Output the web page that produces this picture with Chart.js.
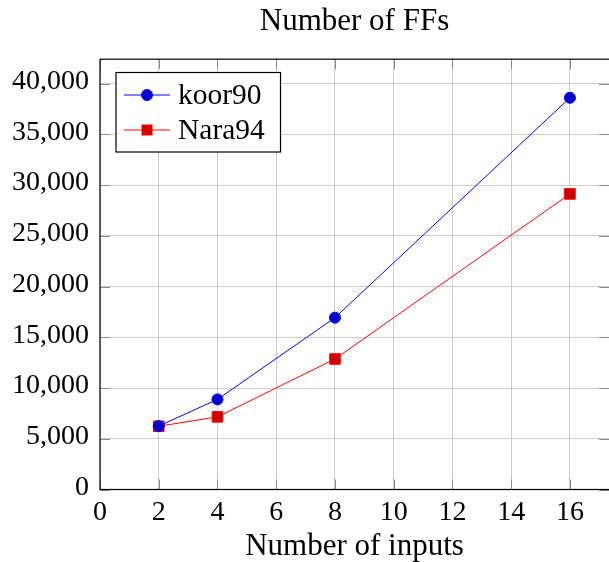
<!DOCTYPE html>
<html>
<head>
<meta charset="utf-8">
<script src="https://cdn.jsdelivr.net/npm/chart.js@4/dist/chart.umd.min.js"></script>
<style>
  html, body { margin: 0; padding: 0; background: #fff; }
  #wrap { width: 609px; height: 562px; }
</style>
</head>
<body>
<div id="wrap"><canvas id="ffChart"></canvas></div>
<script>
// data
const inputs = [2, 4, 8, 16];
const koor90 = [6250, 8880, 16930, 38600];
const nara94 = [6230, 7160, 12860, 29130];
const seriesNames = ["koor90", "Nara94"];
const xTicks = [0, 2, 4, 6, 8, 10, 12, 14, 16];
const yTicks = [0, 5000, 10000, 15000, 20000, 25000, 30000, 35000, 40000];

const FONT = "'Liberation Serif', 'DejaVu Serif', serif";

function pts(xs, ys) {
  return xs.map((x, i) => ({ x: x, y: ys[i] }));
}

// frame, inner tick marks and the legend box inside the plot
const framePlugin = {
  id: "frame",
  afterDatasetsDraw(chart) {
    const ctx = chart.ctx;
    const a = chart.chartArea;
    const xs = chart.scales.x, ys = chart.scales.y;
    ctx.save();
    ctx.strokeStyle = "#8a8a8a";
    ctx.lineWidth = 1;
    ctx.beginPath();
    xTicks.forEach(v => {
      const p = Math.round(xs.getPixelForValue(v)) + 0.5;
      ctx.moveTo(p, a.bottom); ctx.lineTo(p, a.bottom - 10);
      ctx.moveTo(p, a.top); ctx.lineTo(p, a.top + 10);
    });
    yTicks.forEach(v => {
      const p = Math.round(ys.getPixelForValue(v)) + 0.5;
      ctx.moveTo(a.left, p); ctx.lineTo(a.left + 10, p);
      ctx.moveTo(a.right, p); ctx.lineTo(a.right - 10, p);
    });
    ctx.stroke();

    ctx.strokeStyle = "#000";
    ctx.lineWidth = 1.2;
    ctx.strokeRect(a.left, a.top, a.right - a.left + 1, a.bottom - a.top);

    // legend
    const lx = 116, ly = 72.5, lw = 164.5, lh = 79.5;
    ctx.fillStyle = "#fff";
    ctx.fillRect(lx, ly, lw, lh);
    ctx.strokeStyle = "#000";
    ctx.lineWidth = 1.2;
    ctx.strokeRect(lx, ly, lw, lh);
    chart.data.datasets.forEach((ds, i) => {
      const cy = 95 + i * 35;
      ctx.strokeStyle = ds.borderColor;
      ctx.lineWidth = 1;
      ctx.beginPath();
      ctx.moveTo(124, cy); ctx.lineTo(170, cy);
      ctx.stroke();
      ctx.fillStyle = ds.pointBackgroundColor;
      ctx.strokeStyle = ds.pointBorderColor;
      if (ds.pointStyle === "circle") {
        ctx.beginPath();
        ctx.arc(147, cy, 5.5, 0, Math.PI * 2);
        ctx.fill(); ctx.stroke();
      } else {
        ctx.fillRect(142, cy - 5, 10, 10);
        ctx.strokeRect(142, cy - 5, 10, 10);
      }
      ctx.fillStyle = "#000";
      ctx.font = "29.5px " + FONT;
      ctx.textBaseline = "middle";
      ctx.textAlign = "left";
      ctx.fillText(ds.label, 178, cy + 1);
    });
    ctx.restore();
  }
};

new Chart(document.getElementById("ffChart"), {
  type: "line",
  data: {
    datasets: [
      {
        label: seriesNames[0],
        data: pts(inputs, koor90),
        borderColor: "#0000ff",
        borderWidth: 1,
        pointStyle: "circle",
        pointRadius: 5.5,
        pointBackgroundColor: "#0000cc",
        pointBorderColor: "#0000ff",
        pointBorderWidth: 1
      },
      {
        label: seriesNames[1],
        data: pts(inputs, nara94),
        borderColor: "#ff0000",
        borderWidth: 1,
        pointStyle: "rect",
        pointRadius: 7.5,
        pointBackgroundColor: "#cc0000",
        pointBorderColor: "#ff0000",
        pointBorderWidth: 1
      }
    ]
  },
  options: {
    responsive: true,
    maintainAspectRatio: false,
    animation: false,
    layout: { autoPadding: false, padding: { left: 0, right: 0, top: 0, bottom: 0 } },
    plugins: {
      legend: { display: false },
      tooltip: { enabled: false },
      title: {
        display: true,
        fullSize: false,
        text: "Number of FFs",
        color: "#000",
        font: { family: FONT, size: 31, weight: "normal", lineHeight: 1.2 },
        padding: { top: 3, bottom: 19 }
      }
    },
    scales: {
      x: {
        type: "linear",
        min: 0,
        max: 17.33,
        afterFit(s) { s.height = 72.5; s.paddingLeft = 0; s.paddingRight = 0; },
        afterBuildTicks(s) { s.ticks = xTicks.map(v => ({ value: v })); },
        grid: { color: "#cccccc", lineWidth: 1, drawTicks: false },
        border: { display: false },
        ticks: {
          color: "#000",
          padding: 6,
          maxRotation: 0,
          font: { family: FONT, size: 28 }
        },
        title: {
          display: true,
          text: "Number of inputs",
          color: "#000",
          padding: 0,
          font: { family: FONT, size: 31, lineHeight: 1 }
        }
      },
      y: {
        type: "linear",
        min: 0,
        max: 42400,
        afterFit(s) { s.width = 100; },
        afterBuildTicks(s) { s.ticks = yTicks.map(v => ({ value: v })); },
        grid: { color: "#cccccc", lineWidth: 1, drawTicks: false },
        border: { display: false },
        ticks: {
          color: "#000",
          padding: 11,
          labelOffset: -2,
          font: { family: FONT, size: 28 },
          callback: v => Number(v).toLocaleString("en-US")
        }
      }
    }
  },
  plugins: [framePlugin]
});
</script>
</body>
</html>
